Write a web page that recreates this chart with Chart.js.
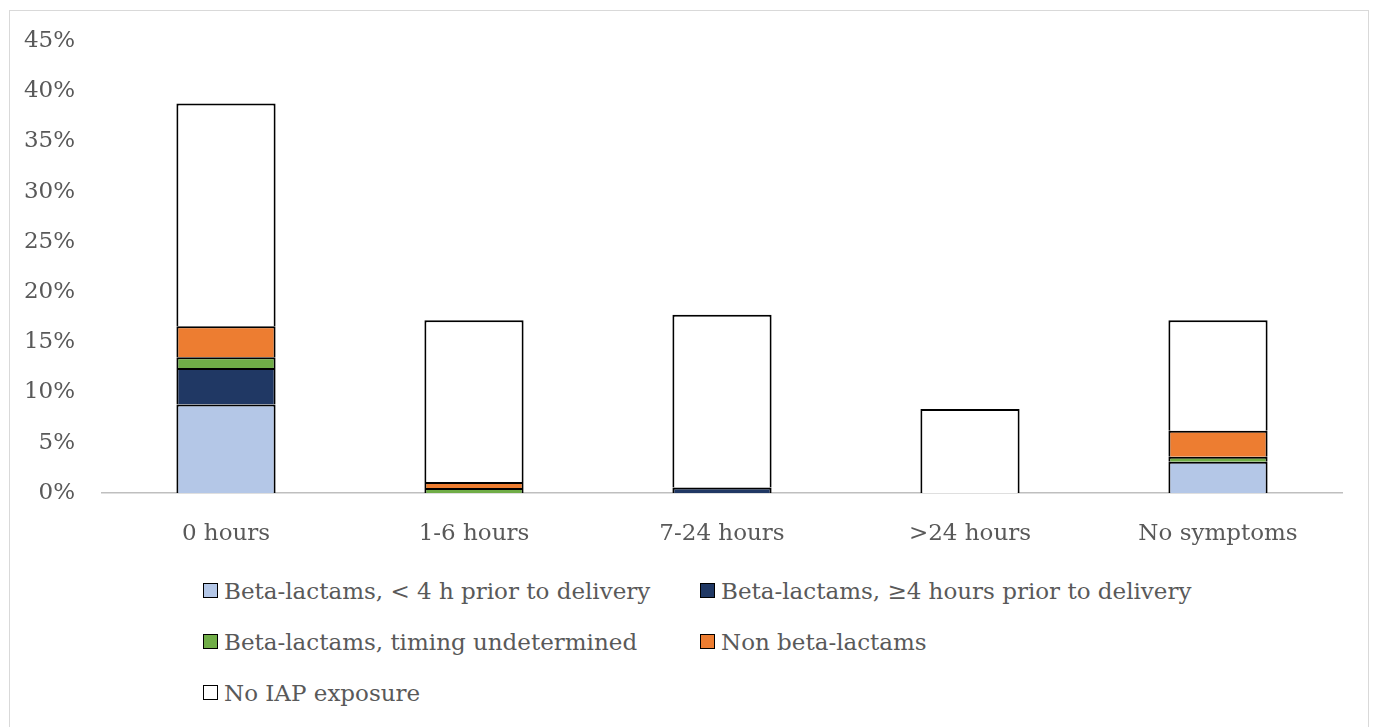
<!DOCTYPE html>
<html>
<head>
<meta charset="utf-8">
<script src="https://cdn.jsdelivr.net/npm/chart.js@4/dist/chart.umd.min.js"></script>
<style>
  html, body { margin: 0; padding: 0; background: #fff; width: 1375px; height: 727px; overflow: hidden; }
  #frame { position: absolute; left: 9px; top: 10px; width: 1360px; height: 740px; border: 1px solid #d9d9d9; box-sizing: border-box; }
  #wrap { position: absolute; left: 0; top: 0; width: 1375px; height: 560px; }
  #legend { position: absolute; left: 203px; top: 565px; font-family: "DejaVu Serif", serif; font-size: 23px; color: #595959; }
  .row { display: flex; height: 51px; align-items: center; }
  .item { display: flex; align-items: center; width: 497px; white-space: nowrap; }
  .box { width: 13px; height: 13px; border: 1.5px solid #000; margin-right: 6px; flex: none; }
</style>
</head>
<body>
<div id="frame"></div>
<div id="wrap"><canvas id="c"></canvas></div>
<div id="legend"></div>
<script>
const categories = ["0 hours", "1-6 hours", "7-24 hours", ">24 hours", "No symptoms"];
const seriesNames = [
  "Beta-lactams, < 4 h prior to delivery",
  "Beta-lactams, \u22654 hours prior to delivery",
  "Beta-lactams, timing undetermined",
  "Non beta-lactams",
  "No IAP exposure"
];
const betaLess4h   = [8.8, null, null, null, 3.1];
const betaMore4h   = [3.65, null, 0.55, null, null];
const betaUndet    = [1.05, 0.5, null, null, 0.5];
const nonBeta      = [3.1, 0.6, null, null, 2.6];
const noIAP        = [22.15, 16.1, 17.2, 8.35, 11.0];
const yTicks = [0, 5, 10, 15, 20, 25, 30, 35, 40, 45];

const colors = ["#b4c7e7", "#203864", "#70ad47", "#ed7d31", "#ffffff"];
const allData = [betaLess4h, betaMore4h, betaUndet, nonBeta, noIAP];

const fontFamily = '"DejaVu Serif", serif';
const fontSize = 23;

const datasets = allData.map((d, i) => ({
  label: seriesNames[i],
  data: d,
  backgroundColor: colors[i],
  borderColor: "#000000",
  borderWidth: 2,
  barPercentage: 0.4,
  categoryPercentage: 1.0
}));

new Chart(document.getElementById("c"), {
  type: "bar",
  data: { labels: categories, datasets },
  options: {
    responsive: true,
    maintainAspectRatio: false,
    animation: false,
    layout: { padding: { left: 0, right: 33, top: 28, bottom: 0 } },
    plugins: { legend: { display: false }, tooltip: { enabled: false } },
    scales: {
      x: {
        stacked: true,
        grid: { display: false, drawTicks: false },
        border: { display: true, color: "#bfbfbf", width: 1.5 },
        ticks: { color: "#595959", font: { family: fontFamily, size: fontSize }, padding: 27 },
        afterFit: s => { s.height = 67; }
      },
      y: {
        stacked: true,
        min: 0, max: 45,
        afterBuildTicks: s => { s.ticks = yTicks.map(v => ({ value: v })); },
        grid: { display: false, drawTicks: false },
        border: { display: false },
        ticks: { color: "#595959", font: { family: fontFamily, size: fontSize }, padding: 27,
                 callback: v => v + "%" },
        afterFit: s => { s.width = 102; }
      }
    }
  }
});

const legend = document.getElementById("legend");
const order = [[0, 1], [2, 3], [4]];
order.forEach(r => {
  const row = document.createElement("div");
  row.className = "row";
  r.forEach(i => {
    const it = document.createElement("div");
    it.className = "item";
    const b = document.createElement("span");
    b.className = "box";
    b.style.background = colors[i];
    const t = document.createElement("span");
    t.textContent = seriesNames[i];
    it.appendChild(b); it.appendChild(t);
    row.appendChild(it);
  });
  legend.appendChild(row);
});
</script>
</body>
</html>
